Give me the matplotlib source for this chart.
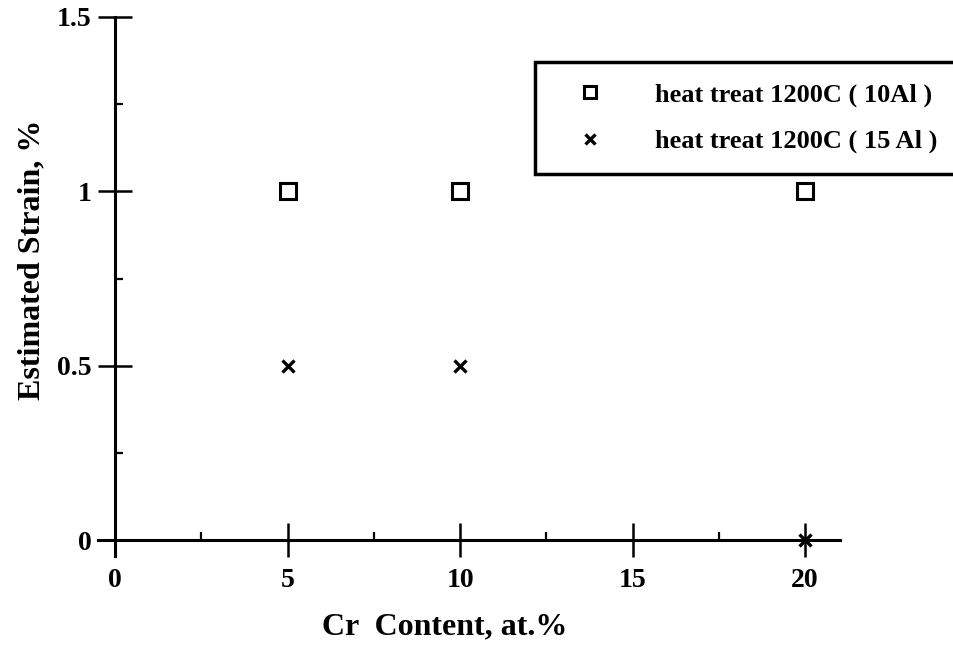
import matplotlib
matplotlib.use("Agg")
import matplotlib.pyplot as plt
from matplotlib.ticker import MultipleLocator

# Data
cr_content = [5, 10, 20]
strain_10al = [1.0, 1.0, 1.0]
strain_15al = [0.5, 0.5, 0.0]
label_10al = "heat treat 1200C ( 10Al )"
label_15al = "heat treat 1200C ( 15 Al )"
x_ticks = [0, 5, 10, 15, 20]
y_ticks = [0, 0.5, 1, 1.5]
y_tick_labels = ["0", "0.5", "1", "1.5"]

plt.rcParams['font.family'] = ['Liberation Serif', 'DejaVu Serif']
plt.rcParams['font.weight'] = 'bold'

fig = plt.figure(figsize=(9.54, 6.46), dpi=100)
ax = fig.add_axes([0.1027, 0.1393, 0.880 - 0.1027, 0.9737 - 0.1393])

ax.plot(cr_content, strain_10al, linestyle='none', marker='s', ms=11,
        mfc='white', mec='black', mew=2.2, label=label_10al)
ax.plot(cr_content, strain_15al, linestyle='none', marker='x', ms=8,
        color='black', mew=2.4, label=label_15al)

ax.set_xlim(-0.5, 21)
ax.set_ylim(-0.045, 1.5)

for s in ['top', 'right']:
    ax.spines[s].set_visible(False)
ax.spines['left'].set_position(('data', 0))
ax.spines['bottom'].set_position(('data', 0))
for s in ['left', 'bottom']:
    ax.spines[s].set_linewidth(2.2)

ax.set_xticks(x_ticks)
ax.set_xticklabels([str(v) for v in x_ticks])
ax.set_yticks(y_ticks)
ax.set_yticklabels(y_tick_labels)
ax.xaxis.set_minor_locator(MultipleLocator(2.5))
ax.yaxis.set_minor_locator(MultipleLocator(0.25))

ax.tick_params(axis='both', which='major', direction='inout', length=24,
               width=1.8, labelsize=20)
ax.tick_params(axis='x', which='major', pad=8)
ax.tick_params(axis='y', which='major', pad=5)
ax.tick_params(axis='both', which='minor', direction='in', length=6, width=1.6)
for lab in ax.get_xticklabels() + ax.get_yticklabels():
    lab.set_fontweight('bold')

ax.set_xlabel("Cr  Content, at.%", fontsize=23, fontweight='bold')
ax.set_ylabel("Estimated Strain, %", fontsize=23, fontweight='bold')
ax.xaxis.set_label_coords(0.468, -0.104)
ax.yaxis.set_label_coords(-0.07, 0.549)

leg = ax.legend(loc='upper left', bbox_to_anchor=(535 / 954, 1 - 62 / 646),
                bbox_transform=fig.transFigure, numpoints=1, fontsize=19,
                frameon=True, fancybox=False, edgecolor='black',
                borderpad=0.8, labelspacing=0.85, handlelength=2.6,
                handletextpad=1.15, borderaxespad=0)
leg.get_frame().set_linewidth(2.5)
leg.get_frame().set_alpha(1)
for t in leg.get_texts():
    t.set_fontweight('bold')
leg.legend_handles[0].set_markersize(9)
leg.legend_handles[1].set_markersize(7)

fig.savefig("out.png", dpi=100)
